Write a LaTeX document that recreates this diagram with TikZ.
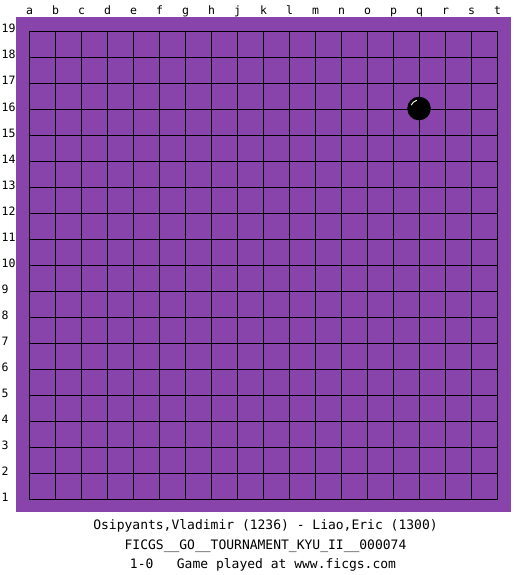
\documentclass[tikz,border=0pt]{standalone}
\usepackage{fontspec}
\setmonofont{DejaVu Sans Mono}
\usepackage{tikz}
\definecolor{boardpurple}{RGB}{136,68,170}
\newcommand\boardfont{\ttfamily\fontsize{13}{13}\selectfont}
\newcommand\edgefont{\ttfamily\fontsize{11.5}{11.5}\selectfont}
\tikzset{
  boardline/.style={line width=1pt,black},
  coordlabel/.style={font=\edgefont,inner sep=0pt},
  gameinfo/.style={font=\boardfont,inner sep=0pt,anchor=base}
}

\begin{document}
\begin{tikzpicture}[x=1pt,y=-1pt]
    \useasboundingbox (0,0) rectangle (525,575);
    \fill[boardpurple] (16,17) rectangle (510.5,512);
    \foreach \i in {0,...,18} {
      \draw[boardline] ({29.5+26*\i},31.5) -- ({29.5+26*\i},499.5);
      \draw[boardline] (29.5,{31.5+26*\i}) -- (497.5,{31.5+26*\i});
    }
    \foreach \l [count=\i from 0] in {a,b,c,d,e,f,g,h,j,k,l,m,n,o,p,q,r,s,t}
      \node[coordlabel,anchor=base] (col-\l) at ({29.5+26*\i},14.5) {\l};
    \foreach \r in {1,...,19}
      \node[coordlabel,anchor=base west] (row-\r) at (1.5,{31.5+26*(19-\r)+1.5}) {\r};
    \fill[black] (419,108.5) circle (11.8);
    \draw[white,line width=0.9pt] (419,108.5) ++(203:8.5) arc (203:256:8.5);
    \node[gameinfo] (players) at (265.5,529) {Osipyants,Vladimir (1236) - Liao,Eric (1300)};
    \node[gameinfo] (event) at (265.5,549) {FICGS\_\_GO\_\_TOURNAMENT\_KYU\_II\_\_000074};
    \node[gameinfo] (result) at (263,568.5) {1-0~~~Game played at www.ficgs.com};
  \end{tikzpicture}
\end{document}
